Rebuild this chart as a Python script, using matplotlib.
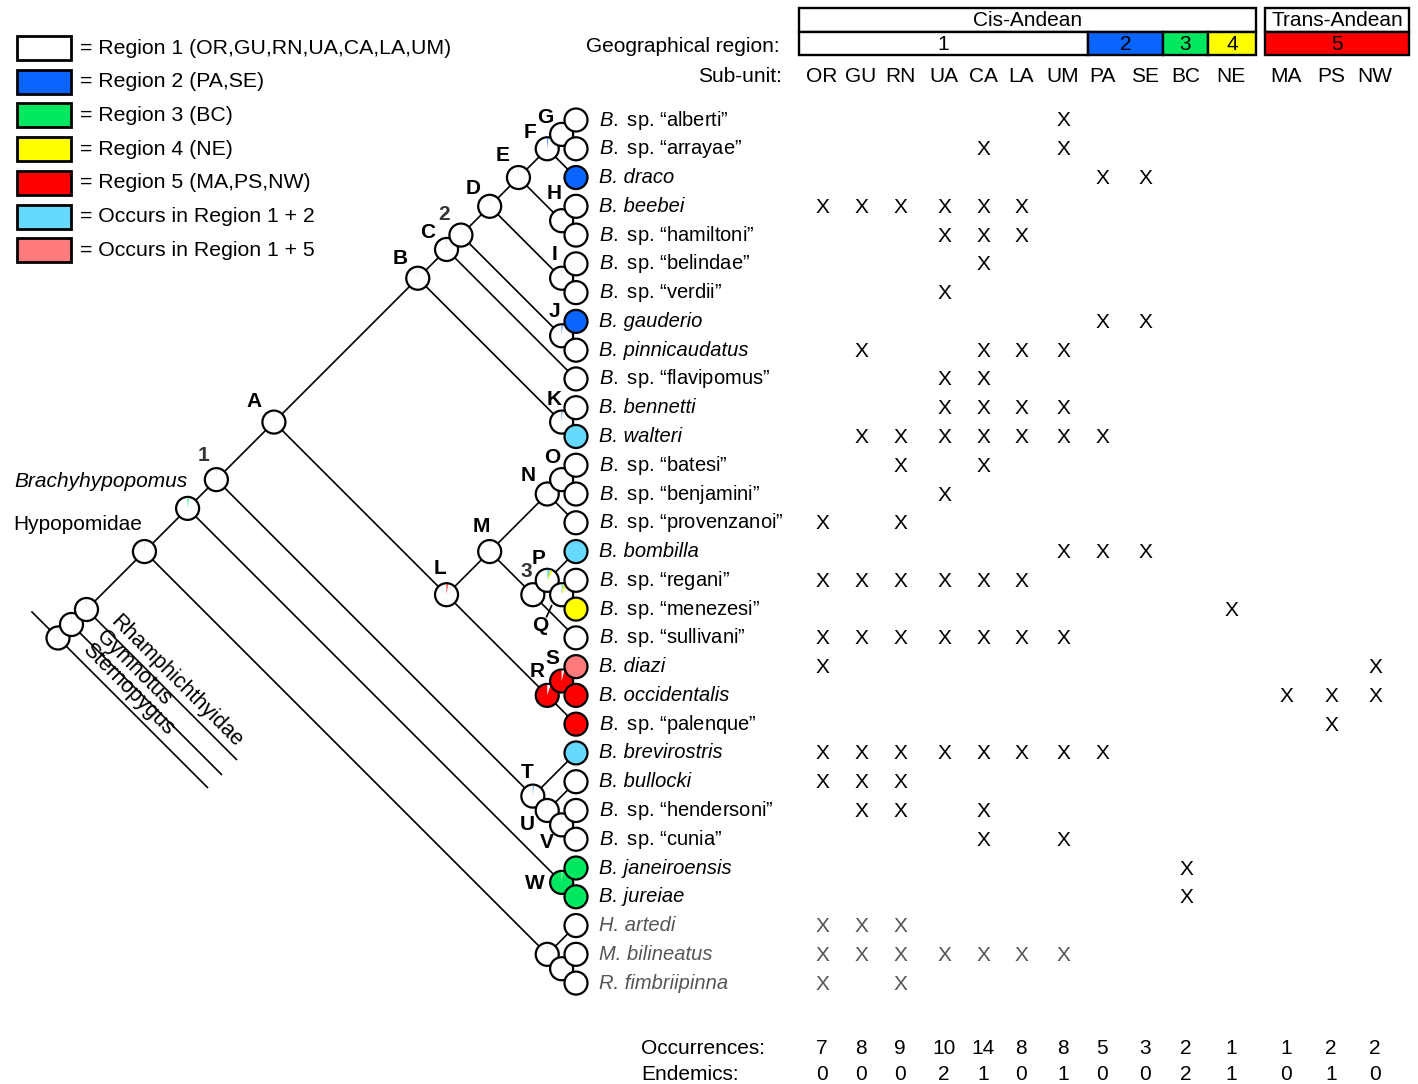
import numpy as np
import matplotlib
matplotlib.use("Agg")
import matplotlib.pyplot as plt
from matplotlib.patches import Circle, Rectangle, Wedge

plt.rcParams['font.family'] = ['Liberation Sans', 'DejaVu Sans']
plt.rcParams['mathtext.fontset'] = 'custom'
plt.rcParams['mathtext.it'] = 'Liberation Sans:italic'
plt.rcParams['mathtext.rm'] = 'Liberation Sans'

# ---- data ----
species = ["B. sp. “alberti”", "B. sp. “arrayae”", "B. draco", "B. beebei",
           "B. sp. “hamiltoni”", "B. sp. “belindae”", "B. sp. “verdii”", "B. gauderio",
           "B. pinnicaudatus", "B. sp. “flavipomus”", "B. bennetti", "B. walteri",
           "B. sp. “batesi”", "B. sp. “benjamini”", "B. sp. “provenzanoi”", "B. bombilla",
           "B. sp. “regani”", "B. sp. “menezesi”", "B. sp. “sullivani”", "B. diazi",
           "B. occidentalis", "B. sp. “palenque”", "B. brevirostris", "B. bullocki",
           "B. sp. “hendersoni”", "B. sp. “cunia”", "B. janeiroensis", "B. jureiae",
           "H. artedi", "M. bilineatus", "R. fimbriipinna"]
outgroup_taxa = ["H. artedi", "M. bilineatus", "R. fimbriipinna"]

# region of each tip: 1..5, 12 = region 1+2, 15 = region 1+5
tip_region = [1, 1, 2, 1, 1, 1, 1, 2, 1, 1, 1, 12, 1, 1, 1, 12, 1, 4, 1, 15,
              5, 5, 12, 1, 1, 1, 3, 3, 1, 1, 1]

subunits = ["OR", "GU", "RN", "UA", "CA", "LA", "UM", "PA", "SE", "BC", "NE", "MA", "PS", "NW"]

presence = [["UM"], ["CA", "UM"], ["PA", "SE"], ["OR", "GU", "RN", "UA", "CA", "LA"],
            ["UA", "CA", "LA"], ["CA"], ["UA"], ["PA", "SE"],
            ["GU", "CA", "LA", "UM"], ["UA", "CA"], ["UA", "CA", "LA", "UM"],
            ["GU", "RN", "UA", "CA", "LA", "UM", "PA"],
            ["RN", "CA"], ["UA"], ["OR", "RN"], ["UM", "PA", "SE"],
            ["OR", "GU", "RN", "UA", "CA", "LA"], ["NE"],
            ["OR", "GU", "RN", "UA", "CA", "LA", "UM"], ["OR", "NW"],
            ["MA", "PS", "NW"], ["PS"], ["OR", "GU", "RN", "UA", "CA", "LA", "UM", "PA"],
            ["OR", "GU", "RN"], ["GU", "RN", "CA"], ["CA", "UM"], ["BC"], ["BC"],
            ["OR", "GU", "RN"], ["OR", "GU", "RN", "UA", "CA", "LA", "UM"], ["OR", "RN"]]

occurrences = [7, 8, 9, 10, 14, 8, 8, 5, 3, 2, 1, 1, 2, 2]
endemics = [0, 0, 0, 2, 1, 0, 1, 0, 0, 2, 1, 0, 1, 0]

legend_labels = ["= Region 1 (OR,GU,RN,UA,CA,LA,UM)", "= Region 2 (PA,SE)", "= Region 3 (BC)",
                 "= Region 4 (NE)", "= Region 5 (MA,PS,NW)", "= Occurs in Region 1 + 2",
                 "= Occurs in Region 1 + 5"]
legend_regions = [1, 2, 3, 4, 5, 12, 15]

# tree topology: node -> (upper child, lower child); ints are tip indices
tree = {
    'G': (0, 1), 'F': ('G', 2), 'H': (3, 4), 'E': ('F', 'H'), 'I': (5, 6),
    'D': ('E', 'I'), 'J': (7, 8), '2': ('D', 'J'), 'C': ('2', 9), 'K': (10, 11),
    'B': ('C', 'K'), 'O': (12, 13), 'N': ('O', 14), 'Q': (16, 17), 'P': (15, 'Q'),
    '3': ('P', 18), 'M': ('N', '3'), 'S': (19, 20), 'R': ('S', 21), 'L': ('M', 'R'),
    'A': ('B', 'L'), 'V': (24, 25), 'U': (23, 'V'), 'T': (22, 'U'), '1': ('A', 'T'),
    'W': (26, 27), 'Brachy': ('1', 'W'), 'Hx': (29, 30), 'Hy': (28, 'Hx'),
    'Hypo': ('Brachy', 'Hy'), 'Rh': ('Hypo', 'Rhamphichthyidae'),
    'Gy': ('Rh', 'Gymnotus'), 'St': ('Gy', 'Sternopygus'),
}
node_region = {'R': 5, 'S': 5, 'W': 3}
# ancestral state slivers (region, degrees clockwise from top)
slivers = {
    'Brachy': [(3, 6)], 'F': [(2, 5)], 'J': [(2, 5)], 'K': [(2, 4)], 'L': [(5, 7)],
    'P': [(12, 16), (4, 14)], 'Q': [(12, 10), (4, 16)], 'T': [(2, 4)],
    'R': [(1, 18)], 'S': [(1, 14)], 'W': [(1, 5)],
}

# ---- layout ----
colors = {1: 'white', 2: '#0a64ff', 3: '#00e860', 4: '#ffff00', 5: '#ff0000',
          12: '#66d9ff', 15: '#ff7b7b'}
TIP_X = 576
tip_y = 120 + np.arange(len(species)) * 28.77
stubs = {'Rhamphichthyidae': (237, 760), 'Gymnotus': (222, 775), 'Sternopygus': (208, 788)}
col_x = [822, 861, 900, 944, 983, 1021, 1063, 1102, 1145, 1186, 1231, 1286, 1331, 1375]
R_NODE = 11.5

pos = {}


def get_pos(n):
    if isinstance(n, (int, np.integer)):
        return (TIP_X, tip_y[n])
    if n in stubs:
        return stubs[n]
    if n in pos:
        return pos[n]
    x1, y1 = get_pos(tree[n][0])
    x2, y2 = get_pos(tree[n][1])
    y = (x1 + y1 - x2 + y2) / 2
    x = x1 - (y - y1)
    pos[n] = (x, y)
    return pos[n]


for n in tree:
    get_pos(n)

fig = plt.figure(figsize=(14.18, 10.84), dpi=100)
ax = fig.add_axes([0, 0, 1, 1])
ax.set_xlim(0, 1418)
ax.set_ylim(1084, 0)
ax.axis('off')

# branches
for n, (a, b) in tree.items():
    x, y = pos[n]
    for c in (a, b):
        cx, cy = get_pos(c)
        ax.plot([x, cx], [y, cy], color='black', lw=1.2, zorder=1, solid_capstyle='butt')
sx, sy = pos['St']
ax.plot([sx, sx - 26], [sy, sy - 26], color='black', lw=1.2, zorder=1)

# nodes, drawn from root towards tips
circles = [(x, y, node_region.get(n, 1), n) for n, (x, y) in pos.items()]
circles += [(TIP_X, tip_y[i], tip_region[i], None) for i in range(len(species))]
circles.sort(key=lambda c: c[0])
for k, (x, y, reg, n) in enumerate(circles):
    z = 3 + k * 0.01
    ax.add_patch(Circle((x, y), R_NODE, facecolor=colors[reg], edgecolor='black', lw=1.6, zorder=z))
    if n is not None:
        # y axis is inverted: 270 deg is the top, increasing angle runs clockwise on screen
        start = 270
        for reg2, deg in slivers.get(n, [(0, 3)]):
            col = '#c8c8c8' if reg2 == 0 else colors[reg2]
            ax.add_patch(Wedge((x, y), R_NODE - 0.9, start, start + deg, facecolor=col,
                               edgecolor='none', zorder=z + 0.001))
            start += deg

# node letters
letter_off = {'G': (-16, -17), 'F': (-17, -16), 'E': (-16, -22), 'D': (-17, -18),
              '2': (-17, -21), 'C': (-19, -17), 'B': (-18, -20), 'A': (-20, -21),
              '1': (-13, -24), 'H': (-7, -27), 'I': (-7, -24), 'J': (-7, -24),
              'K': (-7, -23), 'O': (-9, -22), 'N': (-19, -19), 'M': (-8, -25),
              'L': (-7, -26), 'P': (-9, -22), '3': (-7, -23), 'Q': (-21, 31),
              'R': (-10, -24), 'S': (-9, -23), 'T': (-6, -24), 'U': (-20, 14),
              'V': (-15, 18), 'W': (-27, 1)}
for n, (dx, dy) in letter_off.items():
    x, y = pos[n]
    c = '#333333' if n in '123' else 'black'
    ax.text(x + dx, y + dy, n, ha='center', va='center', fontsize=15, fontweight='bold', color=c, zorder=6)
qx, qy = pos['Q']
ax.plot([qx - 10, qx - 15], [qy + 11, qy + 22], color='black', lw=1.2, zorder=2)

bx, by = pos['Brachy']
ax.text(bx, by - 27, "Brachyhypopomus", ha='right', va='center', fontsize=15, style='italic')
hx, hy = pos['Hypo']
ax.text(hx - 2, hy - 27, "Hypopomidae", ha='right', va='center', fontsize=15)

# outgroup lineage labels
for name, start in [('Rhamphichthyidae', 'Rh'), ('Gymnotus', 'Gy'), ('Sternopygus', 'St')]:
    x, y = pos[start]
    ax.text(x + 20, y + 16, name, rotation=-45, rotation_mode='anchor', ha='left', va='bottom',
            fontsize=15.5)

# species labels
for i, name in enumerate(species):
    grey = name in outgroup_taxa
    col = '#555555' if grey else 'black'
    if ' sp. ' in name:
        gen, rest = name.split(' ', 1)
        label = r'$\mathit{' + gen + '}$ ' + rest
        ax.text(599, tip_y[i], label, ha='left', va='center', fontsize=14.5, color=col)
    else:
        ax.text(599, tip_y[i], name, ha='left', va='center', fontsize=14.5, color=col, style='italic')
    for code in presence[i]:
        ax.text(col_x[subunits.index(code)], tip_y[i] + 1, 'X', ha='center', va='center',
                fontsize=15, color=col)

# header
ax.text(780, 46, "Geographical region:", ha='right', va='center', fontsize=15)
ax.text(782, 76, "Sub-unit:", ha='right', va='center', fontsize=15)
for j, code in enumerate(subunits):
    ax.text(col_x[j], 76, code, ha='center', va='center', fontsize=15)
    ax.text(col_x[j], 1048, str(occurrences[j]), ha='center', va='center', fontsize=15)
    ax.text(col_x[j], 1074, str(endemics[j]), ha='center', va='center', fontsize=15)
ax.text(641, 1048, "Occurrences:", ha='left', va='center', fontsize=15)
ax.text(641, 1074, "Endemics:", ha='left', va='center', fontsize=15)

top_boxes = [("Cis-Andean", 799, 1256), ("Trans-Andean", 1265, 1409)]
for lab, x0, x1 in top_boxes:
    ax.add_patch(Rectangle((x0, 8), x1 - x0, 24, facecolor='white', edgecolor='black', lw=1.7))
    ax.text((x0 + x1) / 2, 20, lab, ha='center', va='center', fontsize=15)
region_boxes = [(1, 799, 1088), (2, 1088, 1163), (3, 1163, 1208), (4, 1208, 1256), (5, 1265, 1409)]
for reg, x0, x1 in region_boxes:
    ax.add_patch(Rectangle((x0, 32), x1 - x0, 23, facecolor=colors[reg], edgecolor='black', lw=1.7))
    ax.text((x0 + x1) / 2, 44, str(reg), ha='center', va='center', fontsize=15)

# legend
for k, (lab, reg) in enumerate(zip(legend_labels, legend_regions)):
    yc = 48 + k * 33.7
    ax.add_patch(Rectangle((17, yc - 12), 54, 24, facecolor=colors[reg], edgecolor='black', lw=2.0))
    ax.text(80, yc, lab, ha='left', va='center', fontsize=15.3)

fig.savefig('out.png', dpi=100)
